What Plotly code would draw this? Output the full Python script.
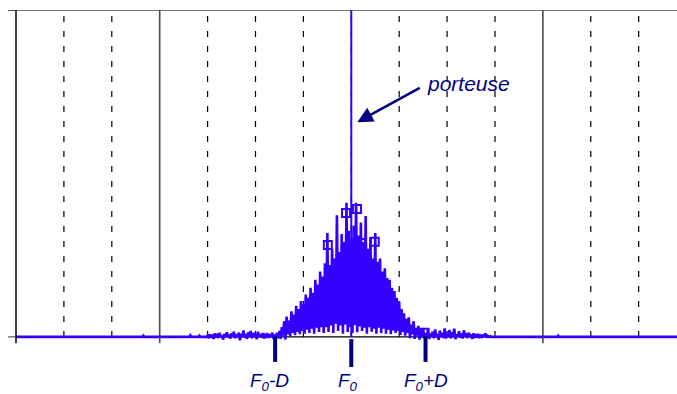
import plotly.graph_objects as go

# Spectrum of the modulated carrier (frequency in units of the grid step, level relative to carrier)
freq_start = -3.0
freq_step = 0.05

# spectral line tops, one per bin
line_peaks = [
    0.004, 0.008, 0.003, 0.010, 0.006, 0.012, 0.005, 0.009, 0.014, 0.007,
    0.011, 0.016, 0.008, 0.013, 0.010, 0.020, 0.009, 0.014, 0.018, 0.012,
    0.010, 0.016, 0.008, 0.012, 0.006, 0.011, 0.008, 0.013, 0.007, 0.012,
    0.018, 0.030, 0.048, 0.062, 0.050, 0.078, 0.068, 0.095, 0.085, 0.110,
    0.100, 0.130, 0.120, 0.150, 0.135, 0.175, 0.160, 0.200, 0.185, 0.225,
    0.318, 0.220, 0.270, 0.240, 0.372, 0.260, 0.315, 0.290, 0.410, 0.325,
    0.300, 0.340, 0.410, 0.310, 0.350, 0.290, 0.370, 0.270, 0.305, 0.240,
    0.318, 0.230, 0.240, 0.200, 0.210, 0.180, 0.175, 0.150, 0.140, 0.120,
    0.108, 0.085, 0.072, 0.055, 0.060, 0.038, 0.048, 0.028, 0.034, 0.020,
    0.026, 0.012, 0.021, 0.010, 0.016, 0.023, 0.009, 0.019, 0.012, 0.026,
    0.010, 0.021, 0.014, 0.025, 0.008, 0.017, 0.010, 0.020, 0.006, 0.013,
    0.008, 0.011, 0.005, 0.009, 0.004, 0.007, 0.011, 0.003, 0.002,
]

# level between neighbouring lines, half a bin to the right of each top
line_floors = [
    -0.004, 0.001, -0.006, 0.002, -0.003, 0.000, -0.008, 0.001, -0.002, -0.005,
    0.002, -0.004, 0.000, -0.010, 0.001, -0.003, -0.006, 0.002, -0.004, 0.000,
    -0.007, 0.001, -0.002, -0.005, 0.002, -0.003, 0.000, -0.006, 0.001, -0.004,
    -0.006, 0.004, -0.008, 0.008, 0.003, 0.012, 0.005, 0.015, 0.008, 0.018,
    0.010, 0.022, 0.012, 0.025, 0.010, 0.028, 0.015, 0.030, 0.012,
    0.030, 0.015, 0.035, 0.012, 0.040, 0.018, 0.035, 0.010, 0.038, 0.015,
    0.030, 0.012, 0.036, 0.014, 0.032, 0.018, 0.028, 0.010, 0.030, 0.016,
    0.025, 0.010,
    0.028, 0.012, 0.025, 0.010, 0.022, 0.008, 0.020, 0.012, 0.018, 0.006,
    0.015, 0.004, 0.012, -0.004, 0.008, -0.006, 0.004, -0.008, 0.003, -0.005,
    0.001, -0.006, 0.002, -0.004, 0.000, -0.009, 0.001, -0.003, -0.005, 0.002,
    -0.004, 0.000, -0.007, 0.001, -0.002, -0.005, 0.002, -0.003, 0.000, -0.006,
    0.001, -0.002, 0.000, -0.003, 0.001, -0.002, 0.000, 0.000,
]

# residual noise far from the carrier
left_freq = [-7.0, -4.36, -4.34, -4.32, -3.38, -3.36, -3.34, -3.19, -3.17, -3.15, -3.02]
left_level = [0.0, 0.0, 0.004, 0.0, 0.0, 0.005, 0.0, 0.0, 0.004, 0.0, 0.0]
right_freq = [2.95, 4.30, 4.32, 4.34, 6.8]
right_level = [0.0, 0.0, 0.004, 0.0, 0.0]

# carrier
carrier_freq = 0.0
carrier_level = 1.0

# theoretical line amplitudes
mark_freq = [-0.49, -0.11, 0.015, 0.12, 0.21, 0.49, 1.53]
mark_level = [0.281, 0.379, 0.251, 0.391, 0.287, 0.291, 0.013]

# frequency markers under the axis
ref_freq = [-1.59, 0.0, 1.55]
ref_labels = ["<i>F<sub>0</sub>-D</i>", "<i>F<sub>0</sub></i>", "<i>F<sub>0</sub>+D</i>"]

# grid
minor_grid = [-6, -5, -3, -2, -1, 0, 1, 2, 3, 5, 6]
major_grid = [-4, 4]

BLUE = "#3300ff"
NAVY = "#000080"

spec_x = list(left_freq)
spec_y = list(left_level)
for i, (pk, fl) in enumerate(zip(line_peaks, line_floors)):
    f = freq_start + i * freq_step
    spec_x += [f, f + freq_step / 2]
    spec_y += [pk, fl]
spec_x += right_freq
spec_y += right_level

fig = go.Figure()

fig.add_trace(go.Scatter(
    x=spec_x, y=spec_y, mode="lines",
    line=dict(color=BLUE, width=2.6), hoverinfo="skip", showlegend=False,
))
fig.add_trace(go.Scatter(
    x=[carrier_freq, carrier_freq], y=[0, carrier_level], mode="lines",
    line=dict(color=BLUE, width=2), showlegend=False,
))
fig.add_trace(go.Scatter(
    x=mark_freq, y=mark_level, mode="markers",
    marker=dict(symbol="square-open", size=8, color=BLUE, line=dict(width=2, color=BLUE)),
    showlegend=False, cliponaxis=False,
))

shapes = []
for g in minor_grid:
    shapes.append(dict(type="line", xref="x", yref="y", x0=g, x1=g, y0=0, y1=1,
                       line=dict(color="black", width=1.2, dash="6px,9px"), layer="below"))
for g in major_grid:
    shapes.append(dict(type="line", xref="x", yref="y", x0=g, x1=g, y0=0, y1=1,
                       line=dict(color="#4a4a4a", width=1.6), layer="below"))
    shapes.append(dict(type="line", xref="x", yref="paper", x0=g, x1=g, y0=0.039, y1=0.02,
                       line=dict(color="#4a4a4a", width=1.6)))
# frame: top border, left axis with its ticks, bottom axis
shapes.append(dict(type="line", xref="paper", yref="y", x0=-0.012, x1=1, y0=1, y1=1,
                   line=dict(color="#4a4a4a", width=1.6)))
shapes.append(dict(type="line", xref="paper", yref="paper", x0=0, x1=0, y0=1, y1=0.02,
                   line=dict(color="black", width=1.5)))
for yv in (0, 1):
    shapes.append(dict(type="line", xref="paper", yref="y", x0=-0.012, x1=0, y0=yv, y1=yv,
                       line=dict(color="#333333", width=1)))
shapes.append(dict(type="line", xref="paper", yref="y", x0=0, x1=1, y0=0, y1=0,
                   line=dict(color="black", width=1.2), layer="below"))
# reference bars
bar_spans = [(0.041, -0.035), (0.032, -0.05), (0.041, -0.035)]
for f, (b0, b1) in zip(ref_freq, bar_spans):
    shapes.append(dict(type="line", xref="x", yref="paper", x0=f, x1=f, y0=b0, y1=b1,
                       line=dict(color=NAVY, width=4)))

label_shift = [-6, -3, 0]
annotations = []
for f, t, s in zip(ref_freq, ref_labels, label_shift):
    annotations.append(dict(x=f, y=-0.094, xref="x", yref="paper", text=t, showarrow=False,
                            xanchor="center", yanchor="middle", xshift=s,
                            font=dict(family="Liberation Sans, Arial", size=19, color=NAVY)))
annotations.append(dict(x=0.684, y=0.785, xref="paper", yref="paper", text="<i>porteuse</i>",
                        showarrow=False, xanchor="center", yanchor="middle",
                        font=dict(family="Liberation Sans, Arial", size=21, color=NAVY)))
annotations.append(dict(x=0.125, y=0.657, xref="x", yref="y", text="", showarrow=True,
                        ax=64, ay=-35, arrowhead=2, arrowsize=1.25, arrowwidth=2.5,
                        arrowcolor=NAVY, standoff=0))

fig.update_layout(
    width=677, height=394,
    margin=dict(l=16, r=0, t=10, b=44),
    paper_bgcolor="white", plot_bgcolor="white",
    xaxis=dict(range=[-7, 6.8], showgrid=False, zeroline=False, showticklabels=False,
               ticks="", showline=False, fixedrange=True),
    yaxis=dict(range=[-0.04, 1.0], showgrid=False, zeroline=False, showticklabels=False,
               ticks="", showline=False, fixedrange=True),
    shapes=shapes, annotations=annotations,
    showlegend=False,
)

fig.write_html("out.html")
